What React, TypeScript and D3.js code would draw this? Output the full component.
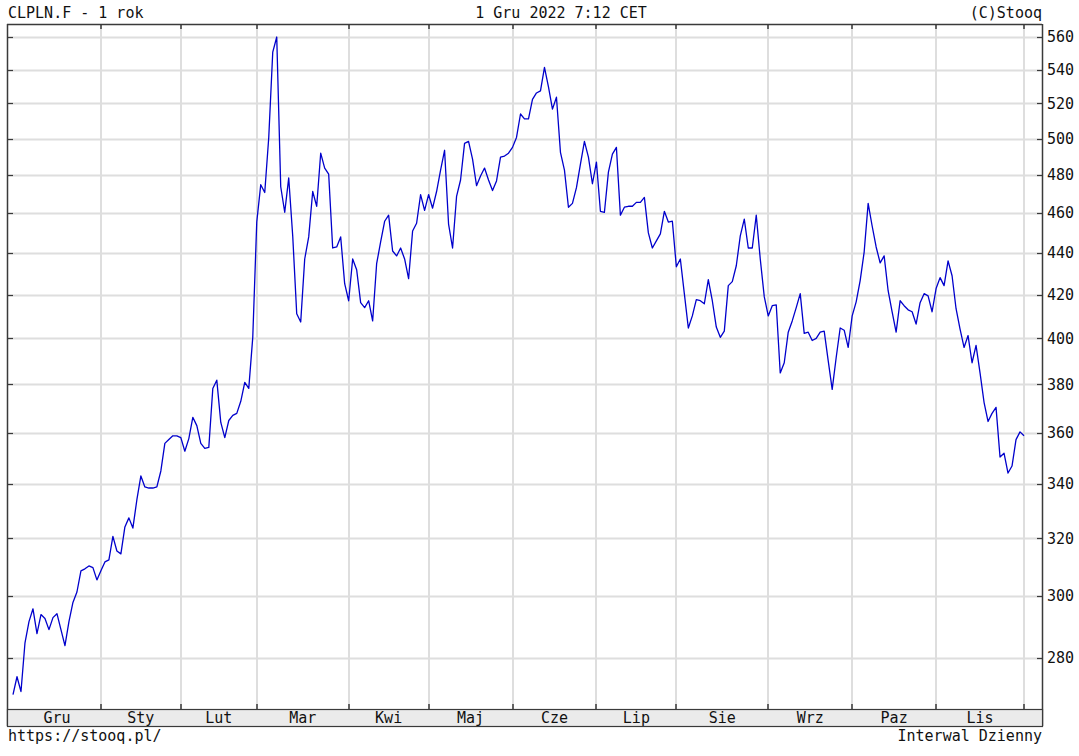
import React from 'react';
import * as d3 from 'd3';

// Daily close prices (CLPLN.F), Dec 2021 – Dec 2022
const prices: number[] = [
  268.8, 274.2, 269.7, 284.8, 291.6, 295.8, 287.7, 293.9, 292.6, 289.0,
  292.9, 294.2, 289.0, 283.9, 291.6, 297.9, 301.4, 308.6, 309.3, 310.3,
  309.7, 305.5, 308.6, 311.7, 312.4, 320.7, 315.5, 314.5, 324.1, 327.4,
  323.7, 334.1, 343.1, 338.9, 338.5, 338.5, 338.9, 345.0, 355.8, 357.3,
  358.8, 358.8, 358.1, 352.7, 357.7, 366.3, 362.9, 355.8, 353.8, 354.2,
  378.3, 381.8, 364.2, 358.1, 365.0, 367.1, 367.9, 372.9, 380.9, 378.3,
  400.5, 455.5, 474.9, 470.8, 500.6, 550.6, 560.0, 473.8, 460.5, 478.5,
  448.5, 411.2, 407.4, 437.1, 448.0, 471.3, 463.6, 491.9, 483.8, 480.5,
  442.5, 443.0, 448.0, 425.2, 417.2, 437.1, 431.9, 416.3, 414.0, 417.2,
  407.9, 434.8, 445.5, 455.9, 459.0, 441.0, 438.6, 442.5, 437.1, 427.6,
  451.0, 454.9, 469.7, 461.5, 469.7, 462.6, 471.3, 482.7, 493.5, 454.5,
  442.5, 468.7, 477.4, 497.3, 498.4, 488.6, 474.4, 479.5, 483.8, 477.4,
  471.8, 476.9, 489.7, 490.3, 491.9, 495.1, 500.6, 513.9, 511.1, 511.1,
  522.4, 526.1, 527.3, 541.3, 529.7, 516.7, 523.6, 492.4, 482.7, 463.1,
  465.1, 473.3, 485.9, 498.4, 489.7, 475.4, 487.0, 461.0, 460.5, 481.6,
  491.4, 495.1, 459.0, 463.1, 463.6, 463.6, 465.6, 465.6, 468.2, 450.0,
  442.5, 446.0, 449.5, 461.0, 455.5, 456.0, 433.3, 437.1, 420.5, 404.7,
  410.2, 417.7, 417.2, 415.8, 427.1, 417.2, 405.1, 400.5, 403.3, 424.3,
  426.2, 433.8, 448.5, 457.0, 442.5, 442.5, 459.0, 437.1, 419.1, 410.2,
  414.9, 415.3, 384.9, 389.3, 402.8, 407.9, 414.0, 420.5, 402.3, 402.8,
  399.1, 400.0, 402.8, 403.3, 390.2, 377.9, 391.6, 404.7, 403.7, 396.0,
  410.2, 416.7, 426.7, 440.5, 465.1, 453.5, 443.0, 435.2, 438.6, 421.9,
  412.1, 402.8, 417.2, 414.9, 413.0, 412.1, 406.5, 416.3, 420.5, 419.5,
  412.1, 422.9, 428.1, 424.3, 436.2, 429.0, 413.5, 404.2, 396.0, 401.3,
  389.3, 396.9, 384.9, 372.5, 364.6, 367.9, 370.4, 350.4, 351.9, 344.2,
  346.9, 357.3, 360.4, 358.8,
];

const monthLabels: string[] = ['Gru', 'Sty', 'Lut', 'Mar', 'Kwi', 'Maj', 'Cze', 'Lip', 'Sie', 'Wrz', 'Paz', 'Lis'];
const monthStartIndex: number[] = [0, 22, 42, 61, 84, 104, 125, 146, 166, 189, 210, 231];
const yTicks: number[] = [280, 300, 320, 340, 360, 380, 400, 420, 440, 460, 480, 500, 520, 540, 560];

const titleLeft = 'CLPLN.F - 1 rok';
const titleCenter = '1 Gru 2022 7:12 CET';
const titleRight = '(C)Stooq';
const footLeft = 'https://stooq.pl/';
const footRight = 'Interwal Dzienny';

export default function App() {
  const W = 1079, H = 756;
  const left = 7, right = 1042, top = 24, bottom = 709, bandBottom = 726;
  const font = '"DejaVu Sans Mono", monospace';
  const fs = 15;

  const lastIdx = prices.length - 1;
  const x = d3.scaleLinear().domain([0, lastIdx]).range([13, 1024]);
  const y = d3.scaleLog().domain([264.5, 568.2]).range([bottom, top]);
  const line = d3.line<number>().x((_, i) => x(i)).y(d => y(d));

  const boundaries = [...monthStartIndex.slice(1), lastIdx];
  const labelPos = monthStartIndex.map((s, i) => {
    const e = i < monthStartIndex.length - 1 ? monthStartIndex[i + 1] : lastIdx;
    return (x(s) + x(e)) / 2;
  });

  const gridColor = '#dedede';
  const frameColor = '#3a3a3a';

  return (
    <svg width={W} height={H} style={{ position: 'absolute', left: 0, top: 0, background: '#fff' }}>
      <rect x={0} y={0} width={W} height={H} fill="#fff" />
      {/* horizontal grid */}
      {yTicks.map(t => (
        <line key={'h' + t} x1={left} x2={right} y1={Math.round(y(t)) + 0.5} y2={Math.round(y(t)) + 0.5}
          stroke={gridColor} strokeWidth={2} />
      ))}
      {/* vertical grid */}
      {boundaries.map(b => (
        <line key={'v' + b} x1={Math.round(x(b))} x2={Math.round(x(b))} y1={top} y2={bottom}
          stroke={gridColor} strokeWidth={2} />
      ))}
      {/* price line */}
      <path d={line(prices) || ''} fill="none" stroke="#0000cc" strokeWidth={1.3} strokeLinejoin="round" />
      {/* frame */}
      <line x1={left} x2={right} y1={top + 0.5} y2={top + 0.5} stroke={frameColor} strokeWidth={1.5} />
      <line x1={left + 0.5} x2={left + 0.5} y1={top} y2={bandBottom} stroke={frameColor} strokeWidth={1.5} />
      <line x1={right + 0.5} x2={right + 0.5} y1={top} y2={bandBottom} stroke={frameColor} strokeWidth={1.5} />
      {/* month band */}
      <rect x={left + 0.5} y={bottom + 0.5} width={right - left} height={bandBottom - bottom} fill="#ebebeb"
        stroke={frameColor} strokeWidth={1.2} />
      {/* x ticks */}
      {boundaries.map(b => (
        <g key={'t' + b}>
          <line x1={Math.round(x(b))} x2={Math.round(x(b))} y1={top} y2={top + 5} stroke={frameColor} strokeWidth={1.5} />
          <line x1={Math.round(x(b))} x2={Math.round(x(b))} y1={bottom - 5} y2={bottom} stroke={frameColor} strokeWidth={1.5} />
        </g>
      ))}
      {/* y ticks */}
      {yTicks.map(t => (
        <g key={'yt' + t}>
          <line x1={left} x2={left + 6} y1={Math.round(y(t)) + 0.5} y2={Math.round(y(t)) + 0.5} stroke={frameColor} strokeWidth={1.2} />
          <line x1={right - 5} x2={right} y1={Math.round(y(t)) + 0.5} y2={Math.round(y(t)) + 0.5} stroke={frameColor} strokeWidth={1.2} />
          <text x={1047} y={y(t)} dy="0.35em" fontFamily={font} fontSize={fs} fill="#111">{t}</text>
        </g>
      ))}
      {/* month labels */}
      {monthLabels.map((m, i) => (
        <text key={m} x={labelPos[i]} y={723} textAnchor="middle" fontFamily={font} fontSize={fs} fill="#111">{m}</text>
      ))}
      {/* titles */}
      <text x={8} y={18} fontFamily={font} fontSize={fs} fill="#111">{titleLeft}</text>
      <text x={561} y={18} textAnchor="middle" fontFamily={font} fontSize={fs} fill="#111">{titleCenter}</text>
      <text x={1042} y={18} textAnchor="end" fontFamily={font} fontSize={fs} fill="#111">{titleRight}</text>
      <text x={8} y={741} fontFamily={font} fontSize={fs} fill="#111">{footLeft}</text>
      <text x={1042} y={741} textAnchor="end" fontFamily={font} fontSize={fs} fill="#111">{footRight}</text>
    </svg>
  );
}
